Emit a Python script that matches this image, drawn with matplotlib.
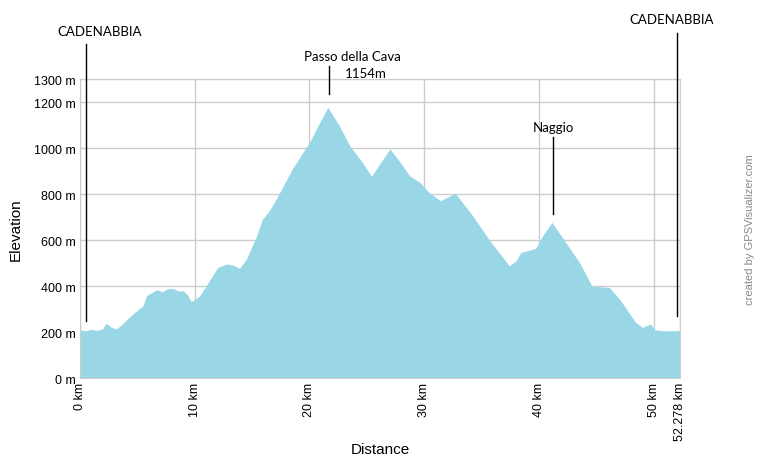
import matplotlib
matplotlib.use("Agg")
import matplotlib.pyplot as plt

# elevation profile (km, m)
distance_km = [0, 0.5, 1.0, 1.5, 2.0, 2.3, 2.7, 3.2, 3.8, 4.6, 5.5, 5.8, 6.7, 7.2,
               7.6, 8.1, 8.6, 9.0, 9.4, 9.7, 10.4, 11.2, 12.0, 12.8, 13.4, 13.9,
               14.5, 15.4, 15.9, 16.5, 17.1, 18.5, 20.0, 20.9, 21.6, 22.6, 23.5,
               24.6, 25.4, 26.1, 27.0, 27.8, 28.7, 29.6, 30.4, 31.4, 32.7, 33.3,
               34.2, 35.7, 36.5, 37.4, 38.0, 38.4, 39.7, 40.3, 41.1, 42.0, 43.5,
               44.6, 46.1, 47.0, 48.4, 49.0, 49.7, 50.1, 51.0, 52.278]
elevation_m = [210, 205, 212, 207, 215, 239, 222, 213, 240, 278, 314, 358, 384, 375,
               388, 390, 378, 380, 360, 332, 355, 416, 481, 496, 490, 477,
               517, 619, 691, 727, 778, 909, 1025, 1112, 1177, 1097, 1010,
               938, 877, 930, 996, 945, 880, 851, 807, 771, 804, 764,
               706, 597, 546, 488, 510, 546, 564, 619, 677, 612, 503,
               399, 394, 343, 242, 220, 235, 209, 205, 206]

x_ticks = [0, 10, 20, 30, 40, 50, 52.278]
x_tick_labels = ["0 km", "10 km", "20 km", "30 km", "40 km", "50 km", "52.278 km"]
y_ticks = [0, 200, 400, 600, 800, 1000, 1200, 1300]
y_tick_labels = ["0 m", "200 m", "400 m", "600 m", "800 m", "1000 m", "1200 m", "1300 m"]

TOTAL_KM = 52.278
FILL = "#99d7e7"
GRID = "#cccccc"

fig = plt.figure(figsize=(7.6, 4.6), dpi=100)
ax = fig.add_axes([0.105, 0.176, 0.79, 0.65])

ax.fill_between(distance_km, elevation_m, 0, color=FILL, linewidth=0, zorder=2)
ax.set_xlim(0, TOTAL_KM)
ax.set_ylim(0, 1300)

ax.set_xticks(x_ticks)
ax.set_xticklabels(x_tick_labels, rotation=90, family="Liberation Sans", fontsize=9)
ax.set_yticks(y_ticks)
ax.set_yticklabels(y_tick_labels, family="Liberation Sans", fontsize=9)
ax.tick_params(length=0, pad=3)
ax.grid(True, color=GRID, linewidth=1, zorder=1)
ax.set_axisbelow(True)
for s in ax.spines.values():
    s.set_color(GRID)

ax.set_xlabel("Distance", family="Liberation Sans", fontsize=11)
ax.xaxis.set_label_coords(0.5, -0.215)
ax.set_ylabel("Elevation", family="Liberation Sans", fontsize=11, labelpad=8)

# waypoint markers
ann = dict(family="Lato", fontsize=9.5, ha="center", va="center")
ax.plot([0.5, 0.5], [248, 1452], color="black", lw=1, clip_on=False, zorder=4)
ax.text(1.7, 1510, "CADENABBIA", **ann)
ax.plot([21.7, 21.7], [1235, 1358], color="black", lw=1, clip_on=False, zorder=4)
ax.text(23.7, 1400, "Passo della Cava", **ann)
ax.text(24.9, 1325, "1154m", **ann)
ax.plot([41.2, 41.2], [713, 1048], color="black", lw=1, clip_on=False, zorder=4)
ax.text(41.2, 1092, "Naggio", **ann)
ax.plot([52.0, 52.0], [271, 1500], color="black", lw=1, clip_on=False, zorder=4)
ax.text(51.5, 1560, "CADENABBIA", **ann)

fig.text(0.993, 0.5, "created by GPSVisualizer.com", rotation=90, color="#888888",
         family="Liberation Sans", fontsize=8, ha="right", va="center")

fig.savefig("out.png", dpi=100)
